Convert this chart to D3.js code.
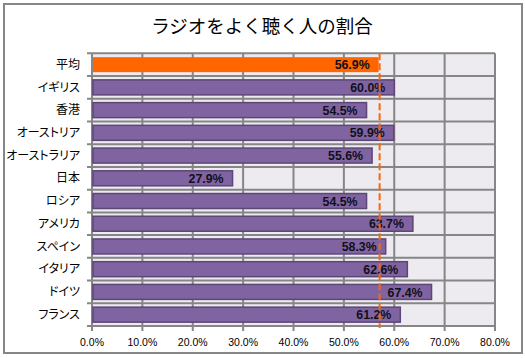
<!DOCTYPE html>
<html><head><meta charset="utf-8">
<script src="https://cdn.jsdelivr.net/npm/d3@7"></script>
<style>
html,body{margin:0;padding:0;background:#fff;}
svg{display:block;}
.cat{font-family:"Noto Sans CJK JP",sans-serif;font-feature-settings:"palt";}
</style></head>
<body>
<script>
const title = "ラジオをよく聴く人の割合";
const categories = ["平均","イギリス","香港","オーストリア","オーストラリア","日本","ロシア","アメリカ","スペイン","イタリア","ドイツ","フランス"];
const values = [56.9,60.0,54.5,59.9,55.6,27.9,54.5,63.7,58.3,62.6,67.4,61.2];
const averageValue = 56.9;
const xTicks = [0,10,20,30,40,50,60,70,80];

(function(){
const W = 525, H = 358;
const svg = d3.select("body").append("svg").attr("width", W).attr("height", H);

svg.append("rect").attr("x",4).attr("y",4).attr("width",518).attr("height",349)
  .attr("fill","#fff").attr("stroke","#868686").attr("stroke-width",2);

svg.append("text").attr("x",262).attr("y",33).attr("text-anchor","middle")
  .attr("font-family","'Noto Sans CJK JP',sans-serif").attr("font-size",18.5)
  .attr("fill","#000").text(title);

const pL = 92, pR = 495, pT = 53.3, pB = 326;
const x = d3.scaleLinear().domain([0,80]).range([pL,pR]);
const y = d3.scaleBand().domain(categories).range([pT,pB]).paddingInner(0.34).paddingOuter(0.17);
const step = y.step();

svg.append("rect").attr("x",pL).attr("y",pT).attr("width",pR-pL).attr("height",pB-pT)
  .attr("fill","#EDEBF0");

const gridColor = "#868686";
svg.append("g").selectAll("line").data(xTicks).join("line")
  .attr("x1",d=>x(d)).attr("x2",d=>x(d)).attr("y1",pT).attr("y2",pB+5)
  .attr("stroke",gridColor).attr("stroke-width",2);
const bounds = d3.range(categories.length+1).map(i=>pT+i*step);
svg.append("g").selectAll("line").data(bounds).join("line")
  .attr("x1",pL-5).attr("x2",pR).attr("y1",d=>d).attr("y2",d=>d)
  .attr("stroke",gridColor).attr("stroke-width",2);

svg.append("g").selectAll("rect").data(categories).join("rect")
  .attr("x",x(0)+1)
  .attr("y",(d)=>y(d))
  .attr("width",(d,i)=>x(values[i])-x(0)-1)
  .attr("height",y.bandwidth())
  .attr("fill",(d,i)=>i===0?"#FF6600":"#8064A2")
  .attr("stroke",(d,i)=>i===0?"none":"#5C4677")
  .attr("stroke-width",1.5);

svg.append("g").selectAll("text").data(categories).join("text")
  .attr("x",(d,i)=>x(values[i])-9)
  .attr("y",d=>y(d)+y.bandwidth()/2)
  .attr("dy","0.37em")
  .attr("text-anchor","end")
  .attr("font-family","'Liberation Sans',Arial,sans-serif")
  .attr("font-weight","bold").attr("font-size",12.5).attr("fill","#10101a")
  .attr("textLength",35).attr("lengthAdjust","spacingAndGlyphs")
  .text((d,i)=>values[i].toFixed(1)+"%");

svg.append("g").selectAll("text").data(categories).join("text")
  .attr("class","cat")
  .attr("x",80)
  .attr("y",d=>y(d)+y.bandwidth()/2)
  .attr("dy","0.35em")
  .attr("text-anchor","end")
  .attr("font-size",12).attr("fill","#000")
  .text(d=>d);

svg.append("g").selectAll("text").data(xTicks).join("text")
  .attr("x",d=>x(d)).attr("y",345.5)
  .attr("text-anchor","middle")
  .attr("font-family","'Liberation Sans',Arial,sans-serif")
  .attr("font-size",10.5).attr("fill","#000")
  .text(d=>d.toFixed(1)+"%");

svg.append("line")
  .attr("x1",x(averageValue)+1).attr("x2",x(averageValue)+1)
  .attr("y1",pT).attr("y2",pB+2)
  .attr("stroke","#FF6600").attr("stroke-width",2)
  .attr("stroke-dasharray","7,3");
})();
</script>
</body></html>
